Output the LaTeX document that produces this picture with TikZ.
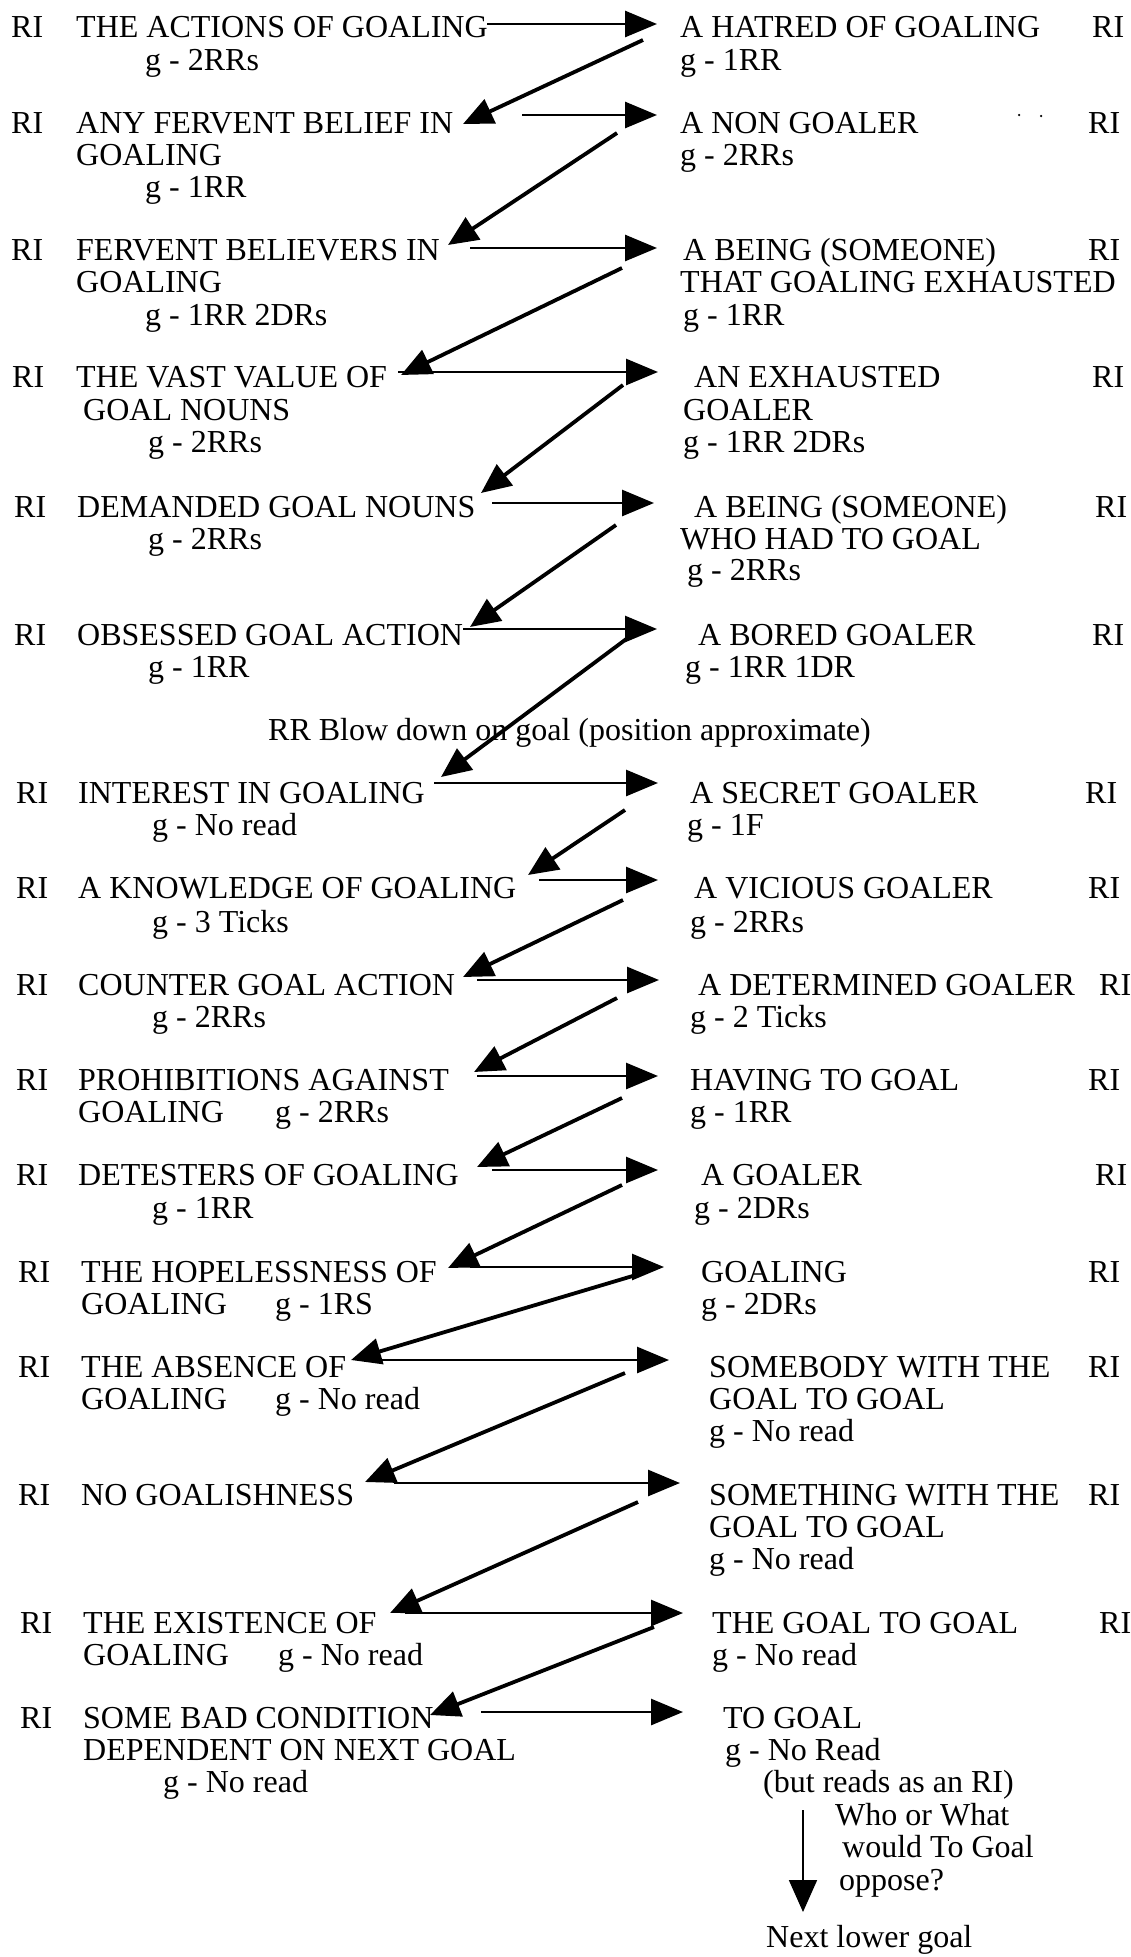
\documentclass[tikz,border=0pt]{standalone}
\usepackage{fontspec}
\setmainfont{Liberation Serif}
\usetikzlibrary{arrows.meta}
\tikzset{
  txt/.style={anchor=base west,inner sep=0pt,font=\fontsize{32}{33}\selectfont},
  harrow/.style={line width=2.8pt,-{Triangle[length=32pt,width=26pt]}},
  darrow/.style={line width=3.8pt,-{Triangle[length=30pt,width=26pt]}},
  varrow/.style={line width=1.8pt,-{Triangle[length=32pt,width=28pt]}},
  speck/.style={fill=black,inner sep=0pt,minimum size=2.5pt,circle}
}
\newcommand\mytext[4]{\node[txt] (#1) at (#2,#3) {#4};}
\begin{document}
\begin{tikzpicture}[x=1pt,y=-1pt]
\useasboundingbox[fill=white] (0,0) rectangle (1131,1957);
% ---- row 1
\mytext{ri1}{11}{37}{RI}
\mytext{l1a}{76}{37}{THE ACTIONS OF GOALING}
\mytext{l1b}{145}{70}{g - 2RRs}
\mytext{r1a}{680}{37}{A HATRED OF GOALING}
\mytext{r1b}{680}{70}{g - 1RR}
\mytext{rr1}{1092}{37}{RI}
% ---- row 2
\mytext{ri2}{11}{133}{RI}
\mytext{l2a}{76}{133}{ANY FERVENT BELIEF IN}
\mytext{l2b}{76}{165}{GOALING}
\mytext{l2c}{145}{197}{g - 1RR}
\mytext{r2a}{680}{133}{A NON GOALER}
\mytext{r2b}{680}{165}{g - 2RRs}
\mytext{rr2}{1088}{133}{RI}
\node[speck] (dot1) at (1019,115) {};
\node[speck] (dot2) at (1041,116) {};
% ---- row 3
\mytext{ri3}{11}{260}{RI}
\mytext{l3a}{76}{260}{FERVENT BELIEVERS IN}
\mytext{l3b}{76}{292}{GOALING}
\mytext{l3c}{145}{325}{g - 1RR 2DRs}
\mytext{r3a}{683}{260}{A BEING (SOMEONE)}
\mytext{r3b}{680}{292}{THAT GOALING EXHAUSTED}
\mytext{r3c}{683}{325}{g - 1RR}
\mytext{rr3}{1088}{260}{RI}
% ---- row 4
\mytext{ri4}{12}{387}{RI}
\mytext{l4a}{76}{387}{THE VAST VALUE OF}
\mytext{l4b}{83}{420}{GOAL NOUNS}
\mytext{l4c}{148}{452}{g - 2RRs}
\mytext{r4a}{694}{387}{AN EXHAUSTED}
\mytext{r4b}{683}{420}{GOALER}
\mytext{r4c}{683}{452}{g - 1RR 2DRs}
\mytext{rr4}{1092}{387}{RI}
% ---- row 5
\mytext{ri5}{14}{517}{RI}
\mytext{l5a}{77}{517}{DEMANDED GOAL NOUNS}
\mytext{l5b}{148}{549}{g - 2RRs}
\mytext{r5a}{694}{517}{A BEING (SOMEONE)}
\mytext{r5b}{680}{549}{WHO HAD TO GOAL}
\mytext{r5c}{687}{580}{g - 2RRs}
\mytext{rr5}{1095}{517}{RI}
% ---- row 6
\mytext{ri6}{14}{645}{RI}
\mytext{l6a}{77}{645}{OBSESSED GOAL ACTION}
\mytext{l6b}{148}{677}{g - 1RR}
\mytext{r6a}{698}{645}{A BORED GOALER}
\mytext{r6b}{685}{677}{g - 1RR 1DR}
\mytext{rr6}{1092}{645}{RI}
\mytext{note}{268}{740}{RR Blow down on goal (position approximate)}
% ---- row 7
\mytext{ri7}{16}{803}{RI}
\mytext{l7a}{78}{803}{INTEREST IN GOALING}
\mytext{l7b}{152}{835}{g - No read}
\mytext{r7a}{690}{803}{A SECRET GOALER}
\mytext{r7b}{687}{835}{g - 1F}
\mytext{rr7}{1085}{803}{RI}
% ---- row 8
\mytext{ri8}{16}{898}{RI}
\mytext{l8a}{78}{898}{A KNOWLEDGE OF GOALING}
\mytext{l8b}{152}{932}{g - 3 Ticks}
\mytext{r8a}{694}{898}{A VICIOUS GOALER}
\mytext{r8b}{690}{932}{g - 2RRs}
\mytext{rr8}{1088}{898}{RI}
% ---- row 9
\mytext{ri9}{16}{995}{RI}
\mytext{l9a}{78}{995}{COUNTER GOAL ACTION}
\mytext{l9b}{152}{1027}{g - 2RRs}
\mytext{r9a}{698}{995}{A DETERMINED GOALER}
\mytext{r9b}{690}{1027}{g - 2 Ticks}
\mytext{rr9}{1099}{995}{RI}
% ---- row 10
\mytext{ri10}{16}{1090}{RI}
\mytext{l10a}{78}{1090}{PROHIBITIONS AGAINST}
\mytext{l10b}{78}{1122}{GOALING}
\mytext{l10c}{275}{1122}{g - 2RRs}
\mytext{r10a}{690}{1090}{HAVING TO GOAL}
\mytext{r10b}{690}{1122}{g - 1RR}
\mytext{rr10}{1088}{1090}{RI}
% ---- row 11
\mytext{ri11}{16}{1185}{RI}
\mytext{l11a}{78}{1185}{DETESTERS OF GOALING}
\mytext{l11b}{152}{1218}{g - 1RR}
\mytext{r11a}{701}{1185}{A GOALER}
\mytext{r11b}{694}{1218}{g - 2DRs}
\mytext{rr11}{1095}{1185}{RI}
% ---- row 12
\mytext{ri12}{18}{1282}{RI}
\mytext{l12a}{81}{1282}{THE HOPELESSNESS OF}
\mytext{l12b}{81}{1314}{GOALING}
\mytext{l12c}{275}{1314}{g - 1RS}
\mytext{r12a}{701}{1282}{GOALING}
\mytext{r12b}{701}{1314}{g - 2DRs}
\mytext{rr12}{1088}{1282}{RI}
% ---- row 13
\mytext{ri13}{18}{1377}{RI}
\mytext{l13a}{81}{1377}{THE ABSENCE OF}
\mytext{l13b}{81}{1409}{GOALING}
\mytext{l13c}{275}{1409}{g - No read}
\mytext{r13a}{709}{1377}{SOMEBODY WITH THE}
\mytext{r13b}{709}{1409}{GOAL TO GOAL}
\mytext{r13c}{709}{1441}{g - No read}
\mytext{rr13}{1088}{1377}{RI}
% ---- row 14
\mytext{ri14}{18}{1505}{RI}
\mytext{l14a}{81}{1505}{NO GOALISHNESS}
\mytext{r14a}{709}{1505}{SOMETHING WITH THE}
\mytext{r14b}{709}{1537}{GOAL TO GOAL}
\mytext{r14c}{709}{1569}{g - No read}
\mytext{rr14}{1088}{1505}{RI}
% ---- row 15
\mytext{ri15}{20}{1633}{RI}
\mytext{l15a}{83}{1633}{THE EXISTENCE OF}
\mytext{l15b}{83}{1665}{GOALING}
\mytext{l15c}{278}{1665}{g - No read}
\mytext{r15a}{712}{1633}{THE GOAL TO GOAL}
\mytext{r15b}{712}{1665}{g - No read}
\mytext{rr15}{1099}{1633}{RI}
% ---- row 16
\mytext{ri16}{20}{1728}{RI}
\mytext{l16a}{83}{1728}{SOME BAD CONDITION}
\mytext{l16b}{83}{1760}{DEPENDENT ON NEXT GOAL}
\mytext{l16c}{163}{1792}{g - No read}
\mytext{r16a}{723}{1728}{TO GOAL}
\mytext{r16b}{725}{1760}{g - No Read}
\mytext{r16c}{763}{1792}{(but reads as an RI)}
\mytext{q1}{835}{1825}{Who or What}
\mytext{q2}{842}{1857}{would To Goal}
\mytext{q3}{839}{1890}{oppose?}
\mytext{next}{766}{1947}{Next lower goal}
% ---- arrow end points
\foreach \n/\sx/\sy/\tx/\ty in {
  1/487/24/657/24, 2/522/115/657/115, 3/470/248/657/248, 4/398/372/658/372,
  5/492/503/654/503, 6/463/629/657/629, 7/434/783/658/783, 8/539/880/658/880,
  9/477/980/659/980, 10/477/1076/658/1076, 11/492/1170/658/1170,
  12/470/1267/664/1267, 13/376/1360/669/1360, 14/394/1483/680/1483,
  15/405/1613/683/1613, 16/481/1712/683/1712}
  {\coordinate (hs\n) at (\sx,\sy); \coordinate (ht\n) at (\tx,\ty);}
\foreach \n/\sx/\sy/\tx/\ty in {
  1/643/40/463/124, 2/617/133/448/245, 3/622/268/401/375, 4/623/385/481/493,
  5/616/525/470/627, 6/629/637/441/777, 7/625/810/528/875, 8/623/900/463/977,
  9/617/998/474/1072, 10/622/1098/477/1167, 11/622/1185/448/1268,
  12/636/1275/351/1360, 13/625/1373/365/1482, 14/638/1502/390/1613,
  15/654/1627/430/1715}
  {\coordinate (ds\n) at (\sx,\sy); \coordinate (dt\n) at (\tx,\ty);}
\coordinate (vs) at (803,1810);
\coordinate (vt) at (803,1912);
% ---- arrows
\foreach \n in {1,...,16} {\draw[harrow] (hs\n) -- (ht\n);}
\foreach \n in {1,...,15} {\draw[darrow] (ds\n) -- (dt\n);}
\draw[varrow] (vs) -- (vt);
\end{tikzpicture}
\end{document}
